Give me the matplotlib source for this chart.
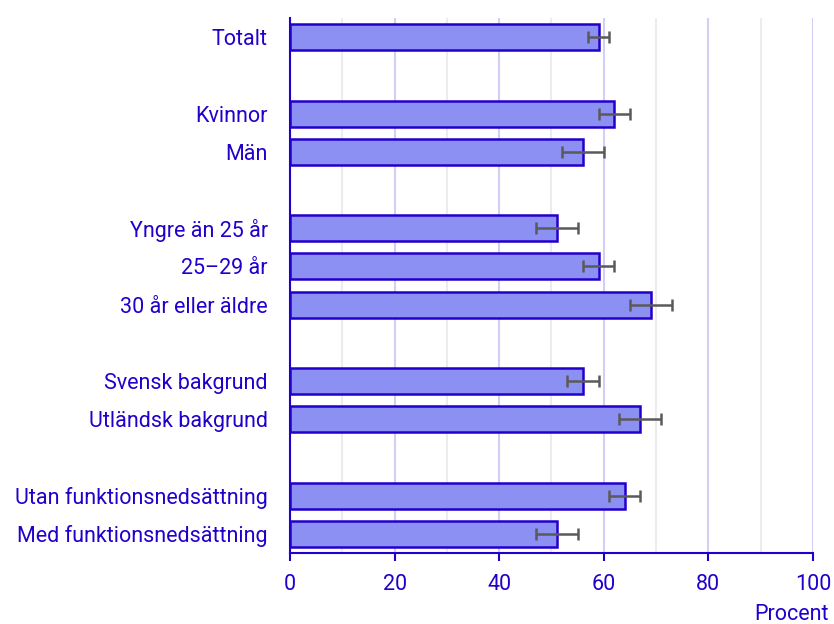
import numpy as np
import matplotlib
matplotlib.use('Agg')
import matplotlib.pyplot as plt
import matplotlib.ticker as mticker

plt.rcParams['font.family'] = ['Roboto', 'DejaVu Sans']

labels = ['Totalt', 'Kvinnor', 'Män', 'Yngre än 25 år', '25–29 år',
          '30 år eller äldre', 'Svensk bakgrund', 'Utländsk bakgrund',
          'Utan funktionsnedsättning', 'Med funktionsnedsättning']
slots = [0, 2, 3, 5, 6, 7, 9, 10, 12, 13]
values = [59, 62, 56, 51, 59, 69, 56, 67, 64, 51]
low = [57, 59, 52, 47, 56, 65, 53, 63, 61, 47]
high = [61, 65, 60, 55, 62, 73, 59, 71, 67, 55]

blue = '#2200cc'
fill = '#8c90f2'

vals = np.array(values)
err = np.array([vals - np.array(low), np.array(high) - vals])

fig = plt.figure(figsize=(8.34, 6.24), dpi=100)
ax = fig.add_axes([0.3477, 0.1138, 0.6271, 0.8574])

ax.barh(slots, vals, height=0.68, color=fill, edgecolor=blue, linewidth=1.8, zorder=3)
ax.errorbar(vals, slots, xerr=err, fmt='none', ecolor='#5a5a5a',
            elinewidth=1.8, capsize=4.2, capthick=1.8, zorder=4)

ax.set_xlim(0, 100)
ax.set_ylim(13.5, -0.5)
ax.set_yticks(slots)
ax.set_yticklabels(labels)
ax.xaxis.set_major_locator(mticker.MultipleLocator(20))
ax.xaxis.set_minor_locator(mticker.MultipleLocator(10))
ax.grid(axis='x', which='major', color='#d2cef4', linewidth=1.5, zorder=0)
ax.grid(axis='x', which='minor', color='#ececf0', linewidth=1.5, zorder=0)

for s in ['top', 'right']:
    ax.spines[s].set_visible(False)
for s in ['left', 'bottom']:
    ax.spines[s].set_color(blue)
    ax.spines[s].set_linewidth(1.5)

ax.tick_params(axis='y', length=0, pad=16, labelsize=15.5, labelcolor=blue)
ax.tick_params(axis='x', which='major', length=6, width=1.5, color=blue,
               pad=9, labelsize=15.5, labelcolor=blue)
ax.tick_params(axis='x', which='minor', length=0)

ax.set_xlabel('Procent', color=blue, fontsize=15.5)
ax.xaxis.set_label_coords(1.03, -0.095)
ax.xaxis.label.set_horizontalalignment('right')

fig.savefig('out.png', dpi=100)
